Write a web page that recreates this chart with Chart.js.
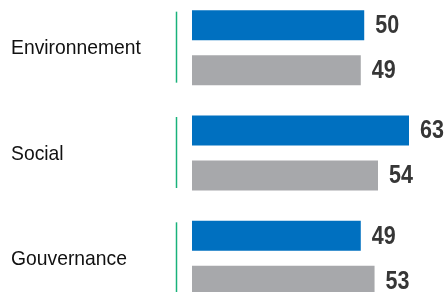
<!DOCTYPE html>
<html lang="fr">
<head>
<meta charset="utf-8">
<script src="https://cdn.jsdelivr.net/npm/chart.js@4/dist/chart.umd.min.js"></script>
<style>
  html, body { margin: 0; padding: 0; background: #fff; overflow: hidden; }
  #chart { position: absolute; left: 0; top: -5px; }
</style>
</head>
<body>
<canvas id="chart" width="445" height="316"></canvas>
<script>
// Données
const categories = ['Environnement', 'Social', 'Gouvernance'];
const serieA = [50, 63, 49];   // barres bleues
const serieB = [49, 54, 53];   // barres grises

const COLORS = {
  blue:  '#0070c0',
  gray:  '#a7a8ab',
  green: '#19b27b',
  value: '#363636',
  label: '#111111'
};

// texte « étroit » : la police Narrow n'est pas installée, on compresse en largeur
function narrowText(ctx, text, x, y, squeeze) {
  ctx.save();
  ctx.translate(x, y);
  ctx.scale(squeeze, 1);
  ctx.fillText(text, 0, 0);
  ctx.restore();
}

// étiquettes de valeur au bout des barres
const valueLabels = {
  id: 'valueLabels',
  afterDatasetsDraw(chart) {
    const ctx = chart.ctx;
    ctx.save();
    ctx.fillStyle = COLORS.value;
    ctx.font = "bold 25px 'Liberation Sans', Arial, sans-serif";
    ctx.textBaseline = 'middle';
    ctx.textAlign = 'left';
    chart.data.datasets.forEach((ds, i) => {
      chart.getDatasetMeta(i).data.forEach((bar, j) => {
        narrowText(ctx, String(ds.data[j]), bar.x + 11, bar.y + 1, 0.86);
      });
    });
    ctx.restore();
  }
};

// libellés des catégories + petits traits verts
const groupMarks = {
  id: 'groupMarks',
  afterDatasetsDraw(chart) {
    const ctx = chart.ctx;
    const y = chart.scales.y;
    ctx.save();
    ctx.fillStyle = COLORS.label;
    ctx.font = "21px 'Liberation Sans', Arial, sans-serif";
    ctx.textBaseline = 'middle';
    ctx.textAlign = 'left';
    ctx.strokeStyle = COLORS.green;
    ctx.lineWidth = 1.5;
    categories.forEach((label, i) => {
      const c = y.getPixelForValue(i);
      narrowText(ctx, label, 11, c + 1, 0.92);
      ctx.beginPath();
      ctx.moveTo(176.5, c - 36);
      ctx.lineTo(176.5, c + 35);
      ctx.stroke();
    });
    ctx.restore();
  }
};

new Chart(document.getElementById('chart'), {
  type: 'bar',
  data: {
    labels: categories,
    datasets: [
      { data: serieA, backgroundColor: COLORS.blue },
      { data: serieB, backgroundColor: COLORS.gray }
    ]
  },
  options: {
    indexAxis: 'y',
    responsive: false,
    animation: false,
    categoryPercentage: 0.855,
    barPercentage: 0.667,
    layout: { padding: { left: 10, right: 5, top: 0, bottom: 0 } },
    plugins: { legend: { display: false }, tooltip: { enabled: false } },
    scales: {
      x: { display: false, min: 0, max: 72 },
      y: {
        grid: { display: false },
        border: { display: false },
        afterFit(scale) { scale.width = 182; },
        ticks: { display: false }
      }
    }
  },
  plugins: [valueLabels, groupMarks]
});
</script>
</body>
</html>
